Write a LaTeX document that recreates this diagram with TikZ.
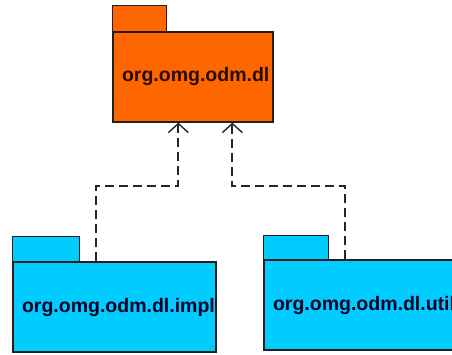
\documentclass[tikz,border=0pt]{standalone}
\usepackage{fontspec}
\setmainfont{Liberation Sans}
\definecolor{pkgorange}{RGB}{255, 102, 0}
\definecolor{pkgblue}{RGB}{0, 204, 255}
\definecolor{pkgline}{RGB}{40, 30, 25}
\usetikzlibrary{
    arrows.meta,
    positioning,
    calc
}
\tikzset{
    pkg/.style={draw=pkgline, line width=1.3pt, inner sep=9pt, align=left,
        font=\fontsize{19.5}{22}\selectfont\bfseries},
    pkgtab/.style={draw=pkgline, line width=1.3pt},
    dep/.style={draw=black!85, line width=1.8pt, dash pattern=on 9pt off 5pt,
        -{Straight Barb[length=9pt, width=20pt, line width=1.4pt]}}
}

\begin{document}
\begin{tikzpicture}[x=1pt, y=1pt]
    \useasboundingbox (0,0) rectangle (452,354);
    \clip (0,0) rectangle (452,354);

    % Main package at top
    \node[pkg, fill=pkgorange, text=black!85!pkgorange, minimum width=160pt,
        minimum height=90pt, text width=142pt] (dl) at (193,277) {org.omg.odm.dl};
    \draw[pkgtab, fill=pkgorange] (dl.north west) rectangle ++(54,26);

    % Implementation package
    \node[pkg, fill=pkgblue, text=black!85!blue, minimum width=203pt,
        minimum height=90pt, text width=185pt] (impl) at (114.5,47) {org.omg.odm.dl.impl};
    \draw[pkgtab, fill=pkgblue] (impl.north west) rectangle ++(67,25);

    % Utility package
    \node[pkg, fill=pkgblue, text=black!85!blue, minimum width=203pt,
        minimum height=90pt, text width=185pt] (util) at (365.5,49) {org.omg.odm.dl.util};
    \draw[pkgtab, fill=pkgblue] (util.north west) rectangle ++(65,24);

    % Dependencies
    \coordinate (implup) at ($(impl.north west)+(84,0)$);
    \coordinate (utilup) at ($(util.north west)+(82,0)$);
    \draw[dep] (implup) -- ++(0,75) -| ($(dl.south west)+(66,0)$);
    \draw[dep] (utilup) -- ++(0,73) -| ($(dl.south west)+(120,0)$);
\end{tikzpicture}
\end{document}
